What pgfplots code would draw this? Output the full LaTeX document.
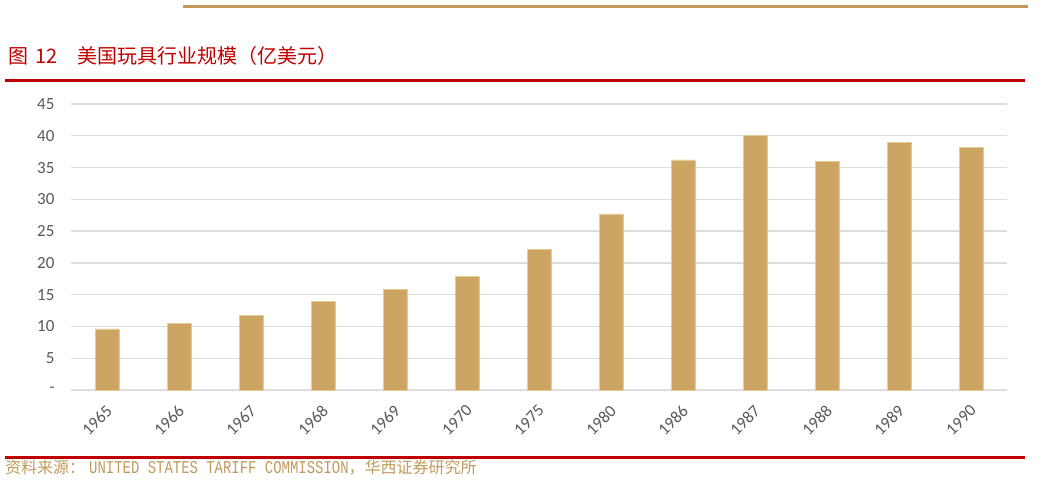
\documentclass[border=0pt]{standalone}
\usepackage{pgfplots}
\pgfplotsset{compat=1.18}
\usepackage{fontspec}
\setmainfont{Carlito}
\newfontfamily\cjk{Noto Sans CJK SC}
\newfontfamily\srcmono[FakeStretch=0.775]{Liberation Mono}

\definecolor{bargold}{HTML}{CDA562}
\definecolor{baredge}{HTML}{E6CB98}
\definecolor{linegold}{HTML}{C4985C}
\definecolor{titlered}{HTML}{C00000}
\definecolor{srcgold}{HTML}{C09A5B}
\definecolor{gridgray}{HTML}{DDDDDD}
\definecolor{labelgray}{HTML}{595959}

\begin{document}
\begin{tikzpicture}[x=1pt,y=1pt]
\path[use as bounding box] (0pt,0pt) rectangle (1053pt,-482pt);

% header
\draw[linegold, line width=3pt] (183pt,-6pt) -- (1028pt,-6pt);
\node[anchor=base west, inner sep=0, text=titlered] at (8pt,-63pt)
  {\cjk\fontsize{20}{24}\selectfont 图\hspace{7pt}12};
\node[anchor=base west, inner sep=0, text=titlered] at (77pt,-63pt)
  {\cjk\fontsize{20}{24}\selectfont 美国玩具行业规模（亿美元）};
\draw[titlered, line width=3pt] (5pt,-80.5pt) -- (1025pt,-80.5pt);

% footer
\draw[titlered, line width=3pt] (5pt,-457pt) -- (1025pt,-457pt);
\node[anchor=base west, inner sep=0, text=srcgold] at (5pt,-473pt)
  {\fontsize{16}{19}\selectfont\cjk 资料来源：\hspace{4pt}{\fontsize{18}{19}\selectfont\srcmono UNITED STATES TARIFF COMMISSION}\cjk ，华西证券研究所};

\begin{axis}[
  at={(71pt,-390pt)}, anchor=south west,
  scale only axis, width=936pt, height=286pt,
  ybar, bar width=24pt, bar shift=0pt,
  xmin=-0.5, xmax=12.5, ymin=0, ymax=45,
  axis line style={draw=none},
  major tick length=0pt,
  ymajorgrids, grid style={gridgray, line width=1.3pt},
  ytick={0,5,...,45},
  yticklabels={-,5,10,15,20,25,30,35,40,45},
  xtick={0,...,12},
  xticklabels={1965,1966,1967,1968,1969,1970,1975,1980,1986,1987,1988,1989,1990},
  /pgf/number format/assume math mode=true,
  yticklabel style={font=\fontsize{17}{20}\selectfont, text=labelgray, xshift=-13pt},
  xticklabel style={font=\fontsize{17}{20}\selectfont, text=labelgray, rotate=45, anchor=east, xshift=-7.6pt, yshift=-14.2pt},
]
\addplot[fill=bargold, draw=baredge, line width=0.8pt] coordinates {
  (0,9.6) (1,10.5) (2,11.8) (3,13.9) (4,15.8) (5,17.9) (6,22.1)
  (7,27.7) (8,36.2) (9,40.0) (10,36.0) (11,39.0) (12,38.1)
};
\end{axis}
\end{tikzpicture}
\end{document}
